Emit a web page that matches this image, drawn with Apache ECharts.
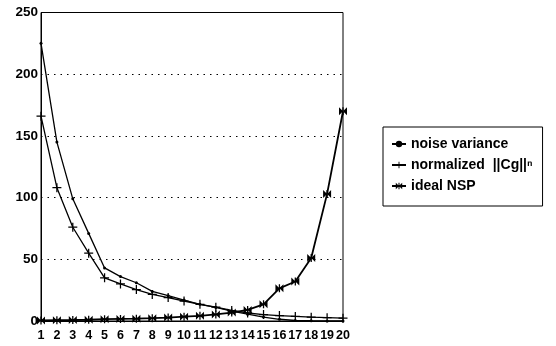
<!DOCTYPE html>
<html>
<head>
<meta charset="utf-8">
<script src="https://cdn.jsdelivr.net/npm/echarts@6/dist/echarts.min.js"></script>
<style>
    html, body { margin: 0; padding: 0; background: #fff; }
    #chart { width: 556px; height: 346px; }
</style>
</head>
<body>
<div id="chart"></div>
<script>
    // x categories 1..20
    var categories = ['1', '2', '3', '4', '5', '6', '7', '8', '9', '10',
        '11', '12', '13', '14', '15', '16', '17', '18', '19', '20'];
    var noiseVariance = [225, 145, 99, 71, 43, 36, 31, 24, 20.5, 17,
        13.5, 11, 8, 5.5, 3.2, 1.4, 0.4, 0.2, 0.1, 0.1];
    var normalizedCg = [166, 108, 76, 55, 35, 30, 25.5, 21.5, 19, 16.2,
        13.5, 11.2, 8.5, 6.5, 5.2, 4.4, 3.7, 3.1, 2.7, 2.3];
    var idealNSP = [0.5, 0.7, 0.8, 1, 1.5, 1.7, 1.9, 2.3, 2.8, 3.5,
        4.2, 5.3, 6.8, 9, 13.5, 26.5, 32, 51, 103, 170];
    var yTicks = [0, 50, 100, 150, 200, 250];

    var plusPath = 'path://M4.3,0h1.4v10h-1.4zM0,4.3h10v1.4h-10z';
    var starPath = 'path://M0,0L10,10L10,0L0,10ZM4.2,0h1.6v10h-1.6z';

    var myChart = echarts.init(document.getElementById('chart'));
    var font = 'Liberation Sans';
    var option = {
        animation: false,
        grid: {
            left: 41, top: 12.5, right: 213, bottom: 25,
            show: true, borderColor: '#000', borderWidth: 1
        },
        legend: {
            orient: 'vertical',
            left: 383, top: 127,
            borderColor: '#000', borderWidth: 1,
            padding: [10, 10, 13, 8],
            itemGap: 7,
            itemWidth: 14, itemHeight: 8,
            textStyle: { fontFamily: font, fontWeight: 'bold', fontSize: 14, color: '#000' },
            data: ['noise variance', 'normalized  ||Cg||ⁿ', 'ideal NSP']
        },
        xAxis: {
            type: 'category',
            boundaryGap: false,
            data: categories,
            axisLine: { lineStyle: { color: '#000', width: 1 } },
            axisTick: { show: false },
            axisLabel: {
                interval: 0, margin: 8,
                fontFamily: font, fontWeight: 'bold', fontSize: 12.5, color: '#000'
            }
        },
        yAxis: {
            type: 'value',
            min: yTicks[0], max: yTicks[yTicks.length - 1], interval: 50,
            axisLine: { show: true, lineStyle: { color: '#000', width: 1 } },
            axisTick: { show: false },
            axisLabel: {
                margin: 3,
                fontFamily: font, fontWeight: 'bold', fontSize: 13.5, color: '#000'
            },
            splitLine: { lineStyle: { color: '#000', type: [1.5, 5], width: 1 } }
        },
        series: [
            {
                name: 'noise variance', type: 'line', data: noiseVariance,
                symbol: 'circle', symbolSize: 3,
                lineStyle: { color: '#000', width: 1.3 },
                itemStyle: { color: '#000' }
            },
            {
                name: 'normalized  ||Cg||ⁿ', type: 'line', data: normalizedCg,
                symbol: plusPath, symbolSize: 9,
                lineStyle: { color: '#000', width: 1.3 },
                itemStyle: { color: '#000' }
            },
            {
                name: 'ideal NSP', type: 'line', data: idealNSP,
                symbol: starPath, symbolSize: 8,
                lineStyle: { color: '#000', width: 1.8 },
                itemStyle: { color: '#000' }
            }
        ]
    };
    if (option && typeof option === "object") {
        myChart.setOption(option, true);
    }
</script>
</body>
</html>
